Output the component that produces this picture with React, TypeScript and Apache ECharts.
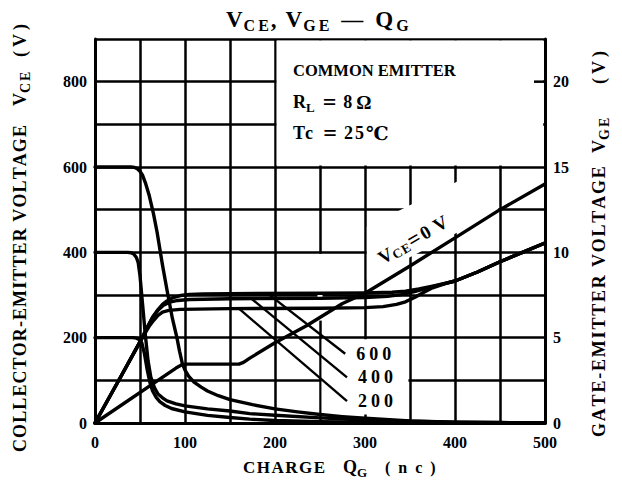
import React, { useEffect, useRef } from 'react';
import * as echarts from 'echarts';

// ---------- data ----------
// Collector-emitter voltage V_CE (left axis, V) vs gate charge Q_G (nC)
const Q_VCE600 = [0, 40, 44, 47, 50, 53, 56, 60, 65, 69, 75, 81, 86, 91, 94, 97, 100, 104, 110, 118, 125, 137, 150, 175, 200, 225, 250, 275, 300, 350, 400, 450, 500];
const VCE600 = [600, 600, 599, 596, 590, 580, 563, 535, 490, 447, 370, 300, 245, 200, 168, 140, 124, 110, 96, 84, 75, 64, 55, 43, 33, 26, 20, 15, 11, 5, 2, 1, 0];
const Q_VCE400 = [0, 36, 40, 43, 46, 48, 50, 53, 56, 59, 62, 66, 70, 75, 80, 90, 100, 125, 150, 172, 200, 250, 300, 350, 400, 500];
const VCE400 = [400, 400, 399, 396, 388, 376, 345, 275, 205, 145, 108, 83, 68, 59, 52, 45, 40, 33, 28, 22, 18, 12, 7, 4, 2, 0];
const Q_VCE200 = [0, 42, 46, 49, 52, 55, 58, 61, 64, 68, 72, 78, 85, 100, 125, 150, 172, 200, 250, 300, 400, 500];
const VCE200 = [200, 200, 199, 196, 188, 162, 125, 95, 75, 60, 50, 41, 34, 26, 18, 13, 9, 6, 3, 2, 0.5, 0];

// Gate-emitter voltage V_GE (right axis, V)
const Q_VGE600 = [0, 28, 50, 58, 64, 70, 75, 80, 87, 95, 105, 120, 150, 250, 300, 330, 345, 360, 375, 390, 400, 425, 450, 475, 500];
const VGE600 = [0, 2.65, 4.75, 5.6, 6.2, 6.65, 6.95, 7.15, 7.35, 7.47, 7.53, 7.56, 7.58, 7.6, 7.62, 7.66, 7.72, 7.85, 8.02, 8.2, 8.32, 8.85, 9.45, 10.0, 10.55];
const Q_VGE400 = [0, 28, 50, 58, 64, 70, 76, 83, 92, 105, 150, 250, 300, 325, 340, 355, 370, 385, 400, 425, 450, 475, 500];
const VGE400 = [0, 2.65, 4.75, 5.6, 6.2, 6.6, 6.9, 7.08, 7.18, 7.24, 7.28, 7.3, 7.35, 7.42, 7.52, 7.7, 7.92, 8.12, 8.32, 8.85, 9.45, 10.0, 10.55];
const Q_VGE200 = [0, 28, 50, 55, 60, 65, 70, 75, 82, 95, 150, 250, 300, 320, 335, 345, 355, 365, 375, 390, 400, 425, 450, 475, 500];
const VGE200 = [0, 2.65, 4.75, 5.2, 5.65, 6.0, 6.3, 6.5, 6.6, 6.66, 6.7, 6.72, 6.76, 6.82, 6.95, 7.1, 7.35, 7.65, 7.92, 8.18, 8.32, 8.85, 9.45, 10.0, 10.55];
const Q_VGE0 = [0, 90, 96, 102, 160, 165, 172, 200, 235, 275, 300, 350, 400, 450, 500];
const VGE0 = [0, 3.22, 3.4, 3.45, 3.45, 3.55, 3.8, 4.7, 5.7, 7.0, 7.6, 9.2, 10.85, 12.5, 14.0];

// Leader lines (start on curve, end at label) in (Q, V_GE)
const LEADER_NAMES = ['600', '400', '200'];
const LEADER_Q = [[192, 278], [174, 280], [160, 280]];
const LEADER_G = [[7.58, 4.06], [7.28, 2.67], [6.7, 1.28]];

const X_MAX = 500;
const VCE_MAX = 900;
const VGE_MAX = 22.5;

// ---------- helpers ----------
const FONT = '"Liberation Serif", "DejaVu Serif", serif';
let measureCtx: CanvasRenderingContext2D | null = null;
function measure(t: string, size: number): number {
  if (!measureCtx) measureCtx = document.createElement('canvas').getContext('2d');
  measureCtx!.font = `bold ${size}px ${FONT}`;
  return measureCtx!.measureText(t).width;
}
type Part = { t: string; s: number; dy?: number; track?: number };
function run(parts: Part[], x0: number, y0: number, z = 10): any[] {
  const out: any[] = [];
  let x = x0;
  for (const p of parts) {
    for (const ch of Array.from(p.t)) {
      if (ch !== ' ') {
        out.push({
          type: 'text',
          x,
          y: y0 + (p.dy || 0),
          z,
          silent: true,
          style: {
            text: ch,
            font: `bold ${p.s}px ${FONT}`,
            fill: '#000',
            align: 'left',
            verticalAlign: 'middle',
            textAlign: 'left',
            textVerticalAlign: 'middle',
          },
        });
      }
      x += measure(ch, p.s) + (p.track || 0);
    }
  }
  return out;
}
const pairs = (xs: number[], ys: number[]) => xs.map((x, i) => [x, ys[i]]);

const curve = (name: string, xs: number[], ys: number[], yAxisIndex: number) => ({
  type: 'line',
  name,
  data: pairs(xs, ys),
  yAxisIndex,
  showSymbol: false,
  symbol: 'none',
  smooth: false,
  silent: true,
  z: 3,
  lineStyle: { color: '#000', width: 3.4, join: 'round', cap: 'round' },
});

const labelStyle = {
  color: '#000',
  fontFamily: FONT,
  fontWeight: 'bold' as const,
  fontSize: 16,
};

export default function App() {
  const ref = useRef<HTMLDivElement>(null);
  useEffect(() => {
    const chart = echarts.init(ref.current!, null, { renderer: 'svg' });
    const option: any = {
      animation: false,
      backgroundColor: '#fff',
      grid: { left: 95, right: 77, top: 39, bottom: 60, containLabel: false },
      xAxis: {
        type: 'value',
        min: 0,
        max: X_MAX,
        interval: 50,
        axisLine: { show: true, onZero: false, lineStyle: { color: '#000', width: 3 } },
        axisTick: { show: false },
        splitLine: { show: true, lineStyle: { color: '#000', width: 2.5 } },
        axisLabel: {
          ...labelStyle,
          margin: 11,
          formatter: (v: number) => (v % 100 === 0 ? String(v) : ''),
        },
      },
      yAxis: [
        {
          type: 'value',
          min: 0,
          max: VCE_MAX,
          interval: 100,
          position: 'left',
          axisLine: { show: true, lineStyle: { color: '#000', width: 3 } },
          axisTick: { show: false },
          splitLine: { show: true, lineStyle: { color: '#000', width: 2.5 } },
          axisLabel: {
            ...labelStyle,
            margin: 8,
            formatter: (v: number) => (v % 200 === 0 && v < 900 ? String(v) : ''),
          },
        },
        {
          type: 'value',
          min: 0,
          max: VGE_MAX,
          interval: 2.5,
          position: 'right',
          axisLine: { show: true, lineStyle: { color: '#000', width: 3 } },
          axisTick: { show: false },
          splitLine: { show: false },
          axisLabel: {
            ...labelStyle,
            margin: 8,
            formatter: (v: number) => (v % 5 === 0 && v <= 20 ? String(v) : ''),
          },
        },
      ],
      series: [
        curve('VCE600', Q_VCE600, VCE600, 0),
        curve('VCE400', Q_VCE400, VCE400, 0),
        curve('VCE200', Q_VCE200, VCE200, 0),
        curve('VGE600', Q_VGE600, VGE600, 1),
        curve('VGE400', Q_VGE400, VGE400, 1),
        curve('VGE200', Q_VGE200, VGE200, 1),
        curve('VGE0', Q_VGE0, VGE0, 1),
        ...LEADER_NAMES.map((n, i) => ({
          type: 'line',
          name: 'leader' + n,
          data: pairs(LEADER_Q[i], LEADER_G[i]),
          yAxisIndex: 1,
          showSymbol: false,
          symbol: 'none',
          silent: true,
          z: 3,
          lineStyle: { color: '#000', width: 2.4 },
        })),
      ],
    };
    chart.setOption(option);

    const P = (q: number, v: number) => chart.convertToPixel({ xAxisIndex: 0, yAxisIndex: 0 }, [q, v]) as number[];
    const PG = (q: number, g: number) => chart.convertToPixel({ xAxisIndex: 0, yAxisIndex: 1 }, [q, g]) as number[];
    const white = { fill: '#fff' };
    const els: any[] = [];

    // legend box (blank grid)
    const [x200, y900] = P(200, 900);
    const [x500, y600] = P(500, 600);
    els.push({ type: 'rect', z: 1, silent: true, shape: { x: x200 + 1.6, y: y900 + 1.6, width: x500 - x200 - 3.4, height: y600 - y900 - 3.2 }, style: white });
    // tick at 20 V on right axis
    const [, y20] = PG(500, 20);
    els.push({ type: 'line', z: 2, silent: true, shape: { x1: x500 - 11, y1: y20, x2: x500, y2: y20 }, style: { stroke: '#000', lineWidth: 2.5 } });

    // label area for 600/400/200
    const [x250, y200] = P(250, 200);
    const [x350, y0] = P(350, 0);
    els.push({ type: 'rect', z: 1, silent: true, shape: { x: x250 + 1.6, y: y200 + 1.6, width: x350 - x250 - 3.2, height: y0 - y200 - 10 }, style: white });

    // gap in the Q=250 line
    const [, ya] = P(250, 400);
    const [, yb] = P(250, 240);
    els.push({ type: 'rect', z: 1, silent: true, shape: { x: x250 - 2.5, y: ya + 1.6, width: 5, height: yb - ya - 1.6 }, style: white });

    // band behind "VCE = 0 V"
    els.push({
      type: 'polygon', z: 1, silent: true,
      shape: { points: [P(302, 336), P(302, 460), P(427, 592), P(448, 592), P(448, 496)] },
      style: white,
    });

    // leader labels
    LEADER_NAMES.forEach((n, i) => {
      const [ex, ey] = PG(LEADER_Q[i][1], LEADER_G[i][1]);
      els.push(...run([{ t: n, s: 18, track: 4 }], ex + 11, ey));
    });

    // title
    els.push(...run([
      { t: 'V', s: 23, track: 1 },
      { t: 'C', s: 16, dy: 6, track: 3 },
      { t: 'E', s: 16, dy: 6, track: 2 },
      { t: ',', s: 23, track: 9 },
      { t: 'V', s: 23, track: 1 },
      { t: 'G', s: 16, dy: 6, track: 3 },
      { t: 'E', s: 16, dy: 6, track: 12 },
      { t: '—', s: 22, track: 12 },
      { t: 'Q', s: 23, track: 3 },
      { t: 'G', s: 16, dy: 6 },
    ], 226, 19));

    // text box
    els.push(...run([{ t: 'COMMON EMITTER', s: 16.5, track: 0 }], 293, 70));
    els.push(...run([
      { t: 'R', s: 18, track: 0 },
      { t: 'L', s: 13, dy: 5, track: 8 },
      { t: '=', s: 24, track: 7 },
      { t: '8', s: 18, track: 4 },
      { t: 'Ω', s: 19 },
    ], 293, 102));
    els.push(...run([
      { t: 'T', s: 18, track: 0 },
      { t: 'c', s: 18, track: 3 },
      { t: ' ', s: 17, track: 3 },
      { t: '=', s: 24, track: 7 },
      { t: '25', s: 18, track: 2 },
      { t: '℃', s: 19 },
    ], 293, 133));

    // x-axis title
    els.push(...run([{ t: 'CHARGE', s: 17, track: 1.5 }], 243, 467));
    els.push(...run([{ t: 'Q', s: 18, track: 0 }, { t: 'G', s: 13, dy: 5 }], 343, 467));
    els.push(...run([{ t: '(nc)', s: 16, track: 8 }], 385, 467));

    // left axis title (rotated, reads bottom to top)
    els.push({
      type: 'group', x: 20, y: 452, rotation: Math.PI / 2,
      children: [
        ...run([{ t: 'COLLECTOR-EMITTER VOLTAGE', s: 18, track: 1.1 }], 0, 0),
        ...run([{ t: 'V', s: 18, track: 0 }, { t: 'CE', s: 14, dy: 5, track: 2 }], 346, 0),
        ...run([{ t: '(V)', s: 18, track: 4 }], 395, 0),
      ],
    });
    // right axis title (rotated)
    els.push({
      type: 'group', x: 599, y: 437, rotation: Math.PI / 2,
      children: [
        ...run([{ t: 'GATE-EMITTER VOLTAGE', s: 18, track: 1.8 }], 0, 0),
        ...run([{ t: 'V', s: 18, track: 0 }, { t: 'GE', s: 14, dy: 5, track: 2 }], 284, 0),
        ...run([{ t: '(V)', s: 18, track: 4 }], 353, 0),
      ],
    });

    // "VCE = 0 V" label
    const [lx, ly] = PG(316, 9.6);
    els.push({
      type: 'group', x: lx, y: ly, rotation: 0.53,
      children: run([
        { t: 'V', s: 19, track: 0 },
        { t: 'CE', s: 13, dy: 4, track: 1 },
        { t: '=', s: 22, track: 2 },
        { t: '0', s: 19, track: 6 },
        { t: 'V', s: 19 },
      ], 0, 0),
    });

    chart.setOption({ graphic: els });
    return () => chart.dispose();
  }, []);
  return <div ref={ref} style={{ position: 'absolute', left: 0, top: 0, width: 622, height: 483 }} />;
}
